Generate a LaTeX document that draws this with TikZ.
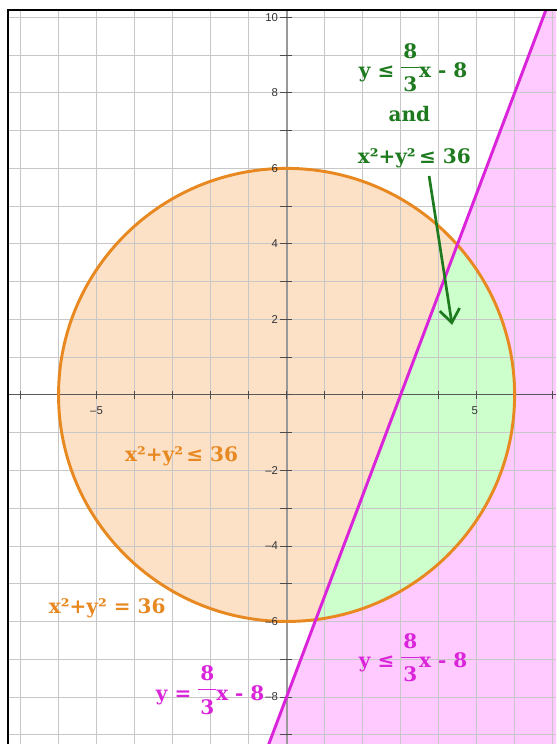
\documentclass[tikz,border=0pt]{standalone}
\usepackage{amsmath}
\usepackage{fontspec}
\setmainfont{DejaVu Serif}
\setsansfont{Liberation Sans}
\usetikzlibrary{positioning,arrows.meta}

\definecolor{ringorange}{RGB}{232,136,32}
\definecolor{discfill}{RGB}{253,225,199}
\definecolor{planefill}{RGB}{255,202,255}
\definecolor{bothfill}{RGB}{204,255,204}
\definecolor{linemag}{RGB}{218,36,218}
\definecolor{labgreen}{RGB}{30,122,30}

% stacked fraction for the labels
\newcommand{\fr}[2]{\raisebox{-10.5pt}{\vbox{\halign{\hfil\kern1.5pt##\kern1.5pt\hfil\cr #1\cr\noalign{\kern6pt\hrule height 0.7pt\kern7pt}#2\cr}}}}

\begin{document}
\begin{tikzpicture}[
    x=1cm, y=0.9934cm,
    gridline/.style={draw=black!22, line width=0.7pt},
    tickmark/.style={draw=black!70, line width=0.7pt},
    ticklab/.style={font=\sffamily\fontsize{8.5}{9}\selectfont, text=black!80, inner sep=0pt},
    lab/.style={font=\bfseries\fontsize{15}{18}\selectfont, inner sep=0pt, anchor=base},
    arrow/.style={-{Straight Barb[length=10pt,width=15pt]}, line width=2pt, draw=labgreen}
]
\useasboundingbox (-7.54,-9.245) rectangle (7.09,10.46);

% Graph line y = 8/3 x - 8
\coordinate (lo) at (-0.5,-9.333);
\coordinate (hi) at (6.9,10.4);

% Regions
\begin{scope}
    \clip (-7.33,-9.245) rectangle (7.09,10.2);
    \fill[planefill] (lo) -- (hi) -- (7.3,10.4) -- (7.3,-9.4) -- cycle;
    \fill[discfill] (0,0) circle (6);
    \begin{scope}
        \clip (0,0) circle (6);
        \fill[bothfill] (lo) -- (hi) -- (7.3,10.4) -- (7.3,-9.4) -- cycle;
    \end{scope}

    % Grid
    \foreach \i in {-7,...,7} {
        \draw[gridline] (\i,-9.4) -- (\i,10.4);
    }
    \foreach \j in {-9,...,10} {
        \draw[gridline] (-7.4,\j) -- (7.2,\j);
    }

    % Axes
    \draw[draw=black!40, line width=1.4pt] (0,-9.4) -- (0,10.4);
    \draw[draw=black!65, line width=0.8pt] (-7.4,0) -- (7.2,0);
    \foreach \i in {-7,...,7} {
        \draw[tickmark] (\i,-0.11) -- (\i,0.11);
    }
    \foreach \j in {-9,...,10} {
        \draw[tickmark] (-0.17,\j) -- (0.15,\j);
    }

    % Curves
    \draw[ringorange, line width=2.2pt] (0,0) circle (6);
    \draw[linemag, line width=2.2pt] (lo) -- (hi);
\end{scope}

% Axis numbers
\foreach \v/\t in {10/10, 8/8, 6/6, 4/4, 2/2, -2/–2, -4/–4, -6/–6, -8/–8} {
    \node[ticklab, anchor=east] (ylab\v) at (-0.22,\v) {\t};
}
\node[ticklab, anchor=north] (xlabm5) at (-5,-0.31) {–5};
\node[ticklab, anchor=north] (xlab5) at (4.95,-0.31) {5};

% Frame
\draw[line width=1.5pt] (-7.33,-9.4) -- (-7.33,10.2) -- (7.2,10.2);

% Labels
\node[lab, text=labgreen] (cond1) at (3.33,8.40) {y ≤ \fr{8}{3}x - 8};
\node[lab, text=labgreen, below=1.16cm of cond1.base, anchor=base, xshift=-0.1cm] (andw) {and};
\node[lab, text=labgreen, below=1.10cm of andw.base, anchor=base, xshift=0.13cm] (both3) {x²+y²\,≤ 36};
\node[lab, text=ringorange] (inlab) at (-2.76,-1.775) {x²+y²\,≤ 36};
\node[lab, text=ringorange] (eqlab) at (-4.72,-5.80) {x²+y² = 36};
\node[lab, text=linemag] (linelab) at (-2.01,-8.08) {y = \fr{8}{3}x - 8};
\node[lab, text=linemag] (planelab) at (3.33,-7.23) {y ≤ \fr{8}{3}x - 8};

% Arrow into the overlap
\coordinate (tip) at (4.355,1.854);
\draw[arrow] ([shift={(0.39,-0.2)}]both3.south) -- (tip);
\end{tikzpicture}
\end{document}
